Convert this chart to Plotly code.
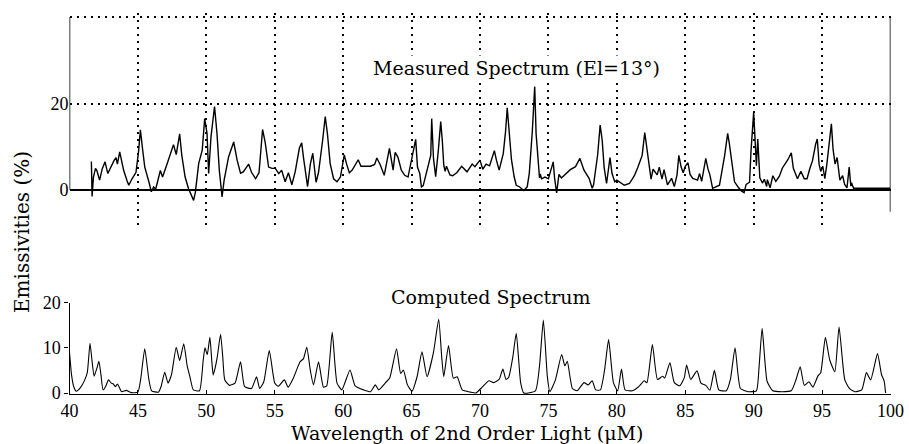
import plotly.graph_objects as go

# ---- data ----
computed_wl = [40.0, 40.15, 40.3, 40.5, 40.8, 41.1, 41.3, 41.5, 41.65, 41.8, 42.0, 42.15, 42.3, 42.45, 42.65, 42.85,
               43.05, 43.2, 43.35, 43.5, 43.65, 43.8, 44.15, 44.5, 45.0, 45.2, 45.5, 45.8, 46.0, 46.5, 46.7, 46.96,
               47.2, 47.45, 47.8, 48.05, 48.35, 48.6, 48.8, 49.05, 49.5, 49.77, 49.9, 50.07, 50.26, 50.4, 50.5, 50.6,
               50.8, 51.04, 51.2, 51.35, 51.7, 52.1, 52.5, 52.8, 53.3, 53.67, 53.9, 54.2, 54.6, 55.0, 55.26, 55.7,
               55.98, 56.36, 56.85, 57.1, 57.34, 57.6, 57.83, 58.2, 58.56, 58.8, 59.2, 59.55, 59.9, 60.5, 60.87, 61.5,
               62.0, 62.35, 62.6, 63.1, 63.4, 63.9, 64.2, 64.4, 64.7, 65.03, 65.4, 65.76, 66.13, 66.6, 66.98, 67.2,
               67.35, 67.7, 68.05, 68.33, 68.7, 69.3, 69.7, 70.16, 70.65, 71.0, 71.4, 71.67, 71.9, 72.1, 72.4, 72.65,
               72.97, 73.2, 74.05, 74.35, 74.63, 74.92, 75.1, 75.5, 75.97, 76.2, 76.38, 76.75, 77.1, 77.6, 77.9, 78.2,
               78.45, 78.8, 79.1, 79.4, 79.75, 80.06, 80.34, 80.6, 81.15, 81.6, 82.0, 82.2, 82.6, 82.97, 83.34, 83.5,
               83.88, 84.2, 84.6, 84.93, 85.1, 85.4, 85.86, 86.15, 86.5, 86.8, 87.13, 87.45, 88.0, 88.3, 88.64, 89.03,
               89.6, 90.2, 90.4, 90.62, 90.98, 91.4, 92.74, 93.1, 93.4, 93.7, 94.04, 94.33, 94.7, 94.9, 95.24, 95.56,
               95.93, 96.24, 96.66, 97.03, 97.4, 97.9, 98.24, 98.55, 99.05, 99.34, 99.54, 99.64]
computed_val = [9.0, 4.0, 1.5, 0.4, 1.2, 2.8, 4.5, 11.0, 7.0, 3.7, 5.5, 7.0, 4.0, 0.7, 1.5, 2.9,
                2.2, 2.0, 1.4, 2.0, 1.2, 0.3, 0.6, 0.1, 0.2, 3.0, 9.8, 3.0, 0.5, 0.2, 1.5, 4.6,
                2.2, 4.0, 10.1, 7.2, 10.9, 6.0, 3.6, 0.7, 0.5, 7.2, 10.0, 8.5, 12.3, 7.0, 4.0, 5.0,
                8.0, 13.0, 8.0, 2.9, 1.7, 2.2, 6.9, 1.4, 1.0, 3.6, 1.0, 2.5, 9.4, 2.2, 1.5, 2.9,
                1.3, 3.3, 6.9, 7.6, 10.1, 5.0, 1.8, 6.9, 1.3, 1.6, 13.4, 2.2, 0.7, 5.1, 1.6, 0.7,
                0.3, 1.8, 0.7, 2.3, 3.3, 9.8, 4.3, 5.1, 1.8, 0.4, 3.6, 9.1, 3.6, 9.0, 16.3, 8.0,
                3.6, 10.5, 3.3, 3.6, 0.7, 0.2, 0.0, 1.3, 2.7, 2.3, 3.0, 5.3, 3.0, 3.5, 8.0, 13.2,
                2.3, 0.0, 0.5, 6.0, 16.1, 3.7, 0.3, 2.8, 8.5, 6.0, 7.0, 1.0, 0.5, 2.3, 1.8, 2.7,
                0.7, 0.7, 5.0, 11.8, 2.3, 0.5, 5.3, 0.7, 0.5, 1.4, 2.7, 2.3, 10.7, 3.0, 3.7, 3.3,
                6.7, 2.3, 1.6, 3.4, 6.2, 3.0, 4.9, 2.2, 1.7, 0.6, 5.0, 0.7, 0.5, 3.0, 10.0, 1.0,
                0.3, 0.5, 6.0, 14.3, 2.6, 0.5, 0.5, 3.0, 5.8, 1.7, 2.5, 1.3, 3.8, 4.5, 12.3, 7.3,
                4.7, 14.6, 2.9, 0.9, 0.3, 0.7, 4.5, 2.9, 8.7, 4.1, 2.6, 0.0]

measured_wl = [41.6, 41.65, 41.75, 41.9, 42.0, 42.2, 42.4, 42.6, 42.8, 43.1, 43.25, 43.4, 43.5, 43.67, 43.96, 44.2,
               44.33, 44.57, 44.86, 45.05, 45.18, 45.35, 45.5, 45.8, 45.98, 46.15, 46.3, 46.64, 46.8, 47.13, 47.45,
               47.6, 47.8, 48.05, 48.2, 48.45, 48.7, 48.94, 49.07, 49.2, 49.44, 49.7, 49.88, 50.05, 50.17, 50.34,
               50.6, 50.78, 50.95, 51.15, 51.3, 51.63, 52.0, 52.25, 52.5, 52.7, 53.09, 53.3, 53.6, 53.85, 54.11,
               54.3, 54.55, 54.8, 55.04, 55.3, 55.5, 55.76, 56.0, 56.25, 56.5, 56.8, 56.97, 57.1, 57.25, 57.4, 57.6,
               57.78, 58.02, 58.2, 58.5, 58.69, 58.85, 59.05, 59.3, 59.55, 59.8, 60.08, 60.27, 60.45, 60.66, 61.1,
               61.3, 61.66, 62.0, 62.3, 62.46, 62.7, 63.0, 63.38, 63.55, 63.65, 63.8, 64.0, 64.25, 64.5, 64.74,
               65.13, 65.3, 65.43, 65.6, 65.72, 65.85, 66.4, 66.47, 66.6, 66.76, 66.95, 67.13, 67.25, 67.35, 67.45,
               67.55, 67.8, 68.0, 68.3, 68.66, 69.05, 69.43, 69.63, 70.0, 70.2, 70.45, 70.7, 70.97, 71.05, 71.2,
               71.4, 71.7, 71.87, 71.99, 72.13, 72.3, 72.5, 72.65, 72.9, 73.2, 73.45, 73.6, 73.82, 74.0, 74.1,
               74.24, 74.35, 74.4, 74.5, 74.75, 75.0, 75.35, 75.45, 75.6, 75.77, 75.95, 76.25, 76.6, 76.98, 77.3,
               77.6, 77.97, 78.2, 78.3, 78.6, 78.78, 78.93, 79.07, 79.25, 79.35, 79.5, 79.65, 79.85, 80.0, 80.2,
               80.55, 80.92, 81.28, 81.53, 81.85, 82.04, 82.2, 82.35, 82.5, 82.65, 82.95, 83.1, 83.3, 83.45, 83.7,
               84.0, 84.2, 84.4, 84.53, 84.7, 84.85, 85.0, 85.2, 85.35, 85.55, 85.9, 86.05, 86.2, 86.5, 86.65,
               86.8, 87.0, 87.25, 87.5, 87.88, 88.1, 88.22, 88.4, 88.6, 88.86, 89.1, 89.3, 89.45, 89.7, 89.8, 90.0,
               90.1, 90.2, 90.3, 90.4, 90.45, 90.65, 90.78, 90.95, 91.0, 91.2, 91.4, 91.62, 91.88, 92.1, 92.5,
               92.75, 92.9, 93.2, 93.45, 93.7, 93.9, 94.1, 94.3, 94.53, 94.65, 94.78, 94.9, 95.05, 95.2, 95.35,
               95.68, 95.8, 95.95, 96.1, 96.2, 96.3, 96.5, 96.65, 96.82, 96.98, 97.1, 97.15, 97.3, 100.0]
measured_val = [6.6, -1.5, 3.0, 5.0, 4.5, 2.3, 5.0, 6.5, 3.8, 6.0, 6.8, 7.5, 6.0, 8.8, 4.5, 2.2,
                1.1, 2.6, 4.1, 9.0, 13.9, 9.2, 5.3, 1.9, -0.4, 0.7, 0.2, 4.5, 3.0, 6.0, 9.0,
                10.5, 8.2, 13.0, 8.2, 3.0, 0.3, -1.6, -2.4, -0.5, 6.1, 9.2, 16.5, 13.1, 3.8, 12.3,
                19.3, 13.0, 4.5, -1.6, 2.3, 7.7, 11.1, 6.9, 3.9, 4.2, 6.0, 4.1, 2.6, 4.0, 14.0,
                11.0, 5.3, 5.0, 5.0, 3.8, 4.6, 1.9, 4.0, 1.2, 4.3, 9.7, 10.9, 7.5, 3.5, 0.8, 6.0,
                8.5, 1.8, 4.1, 11.5, 17.0, 13.0, 6.1, 2.6, 1.9, 3.0, 8.1, 5.8, 4.0, 4.6, 7.0,
                5.5, 5.5, 5.5, 5.9, 7.4, 5.9, 3.4, 9.6, 6.1, 4.6, 8.7, 7.6, 4.6, 3.4, 3.0,
                9.5, 11.7, 5.3, 3.8, 0.7, 1.0, 8.0, 16.5, 7.3, 3.1, 9.0, 15.8, 11.2, 5.8, 4.3,
                5.5, 3.5, 3.3, 4.0, 5.5, 4.2, 6.0, 5.4, 6.9, 4.8, 6.0, 5.6, 8.4, 9.1, 6.9,
                4.6, 8.4, 13.6, 19.0, 14.0, 7.0, 3.0, 1.1, 0.7, -0.1, 0.7, 3.8, 13.4, 23.9, 13.0,
                8.3, 2.8, 3.7, 2.6, 3.0, 2.6, 6.5, 2.8, -0.7, 3.6, 2.8, 3.6, 4.7, 5.4, 7.3,
                4.6, 2.7, 0.4, 1.2, 8.2, 15.0, 11.5, 5.3, 1.5, 3.8, 7.5, 3.8, 1.9, 2.3, 1.9,
                1.1, 1.5, 3.3, 5.2, 8.0, 13.3, 9.5, 5.5, 2.5, 4.8, 3.5, 5.3, 2.5, 4.7, 1.2,
                2.7, 0.8, 3.5, 8.0, 5.3, 4.0, 5.5, 6.3, 3.6, 2.7, 2.3, 3.8, 2.0, 7.3, 5.0,
                3.5, 0.4, 0.8, 1.1, 8.0, 13.1, 10.8, 6.0, 1.9, 0.7, -0.2, -0.6, 1.3, 1.8, 8.7, 18.0,
                13.0, 5.6, 11.8, 4.3, 2.8, 1.6, 2.5, 0.8, 2.4, 0.5, 3.3, 2.0, 3.2, 5.1, 7.0,
                8.6, 5.0, 2.6, 4.3, 2.6, 2.6, 4.9, 6.8, 10.6, 11.8, 6.0, 4.3, 5.5, 2.6, 6.0,
                15.3, 9.5, 6.0, 7.5, 4.2, 2.3, 3.3, 1.3, 0.5, 5.3, 0.9, 1.7, 0.4, 0.4]

x_ticks = [40, 45, 50, 55, 60, 65, 70, 75, 80, 85, 90, 95, 100]
top_grid_x = [45, 50, 55, 60, 65, 70, 75, 80, 85, 90, 95]
bottom_y_ticks = [0, 10, 20]
top_y_ticks = [0, 20, 40]
top_y_labels = ["0", "20", ""]

W, H = 909, 444
FONT = "Liberation Serif, Times New Roman, serif"
TFONT = "DejaVu Serif, Liberation Serif, serif"


def px(x):
    return x / W


def py(y):
    return (H - y) / H


fig = go.Figure()

fig.add_trace(go.Scatter(x=measured_wl, y=measured_val, mode="lines",
                         line=dict(color="black", width=1.4),
                         xaxis="x2", yaxis="y2", showlegend=False, hoverinfo="skip"))
fig.add_trace(go.Scatter(x=computed_wl, y=computed_val, mode="lines",
                         line=dict(color="black", width=1.1, shape="spline", smoothing=0.5),
                         xaxis="x", yaxis="y", showlegend=False, hoverinfo="skip"))

xdom = [px(69.5), px(890.5)]
grid_dash = "2px,5px"
tickfont = dict(family=FONT, size=18, color="black")

fig.update_layout(
    width=W, height=H,
    margin=dict(l=0, r=0, t=0, b=0, pad=0, autoexpand=False),
    paper_bgcolor="white", plot_bgcolor="white",
    showlegend=False,
    font=dict(family=FONT, color="black", size=18),
    xaxis=dict(domain=xdom, range=[40, 100], tickvals=x_ticks, ticks="inside", ticklen=4,
               tickcolor="black", showline=True, linecolor="black", linewidth=1.3,
               showgrid=False, zeroline=False, anchor="y", automargin=False,
               tickfont=tickfont),
    yaxis=dict(domain=[py(394.4), py(302.5)], range=[-0.3, 20], tickvals=bottom_y_ticks,
               ticks="outside", ticklen=4, tickcolor="black", showline=True,
               linecolor="black", linewidth=1.3, showgrid=False, zeroline=False, anchor="x",
               automargin=False, tickfont=tickfont),
    xaxis2=dict(domain=xdom, range=[40, 100], tickvals=top_grid_x, showticklabels=False,
                ticks="", showline=False, showgrid=True, gridcolor="black", gridwidth=1.6,
                griddash=grid_dash, zeroline=False, anchor="y2", automargin=False),
    yaxis2=dict(domain=[py(224.6), py(12.7)], range=[-8, 41], tickvals=top_y_ticks,
                ticktext=top_y_labels, ticks="", showline=False, showgrid=True,
                gridcolor="black", gridwidth=1.6, griddash=grid_dash,
                zeroline=True, zerolinecolor="black", zerolinewidth=1.5, anchor="x2",
                automargin=False, tickfont=tickfont),
    shapes=[
        dict(type="line", xref="x2", yref="y2", x0=40, x1=40, y0=0, y1=40,
             line=dict(color="black", width=1.5)),
        dict(type="line", xref="x2", yref="y2", x0=100, x1=100, y0=-5, y1=40,
             line=dict(color="black", width=1.5)),
    ],
    annotations=[
        dict(text="Measured Spectrum (El=13°)", xref="paper", yref="paper",
             x=px(516), y=py(68), xanchor="center", yanchor="middle",
             showarrow=False, bgcolor="white",
             font=dict(family=TFONT, size=19, color="black")),
        dict(text="Computed Spectrum", xref="paper", yref="paper",
             x=px(491), y=py(297), xanchor="center", yanchor="middle", showarrow=False,
             font=dict(family=TFONT, size=19, color="black")),
        dict(text="Emissivities (%)", xref="paper", yref="paper",
             x=px(22), y=py(232), xanchor="center", yanchor="middle",
             showarrow=False, textangle=-90,
             font=dict(family=TFONT, size=20, color="black")),
        dict(text="Wavelength of 2nd Order Light (μM)", xref="paper", yref="paper",
             x=px(467), y=py(433), xanchor="center", yanchor="middle", showarrow=False,
             font=dict(family=TFONT, size=19, color="black")),
    ],
)

fig.write_html("out.html")
